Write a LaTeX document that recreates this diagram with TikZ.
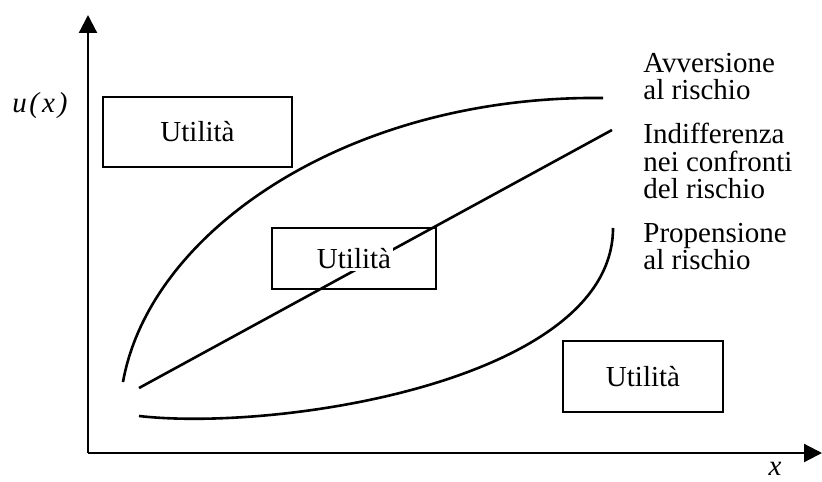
\documentclass[tikz,border=0pt]{standalone}
\usepackage{fontspec}
\setmainfont{Liberation Serif}
\usetikzlibrary{arrows.meta}
\begin{document}
\begin{tikzpicture}[x=0.5pt,y=-0.5pt,
  axis/.style={line width=1.1pt,-{Triangle[length=9pt,width=9pt]}},
  curve/.style={line width=1.3pt},
  utilbox/.style={draw,line width=0.7pt,inner sep=0pt,font=\fontsize{14.5}{14}\selectfont},
  lbl/.style={align=left,anchor=north west,inner sep=0pt,font=\fontsize{14.5}{13.6}\selectfont}]
\useasboundingbox (0,0) rectangle (822,481);
% assi
\coordinate (O) at (88,453);
\coordinate (ytop) at (88,15);
\coordinate (xend) at (822,453);
\draw[axis] (O) -- (ytop);
\draw[axis] (O) -- (xend);
\node[lbl,anchor=center] (ulab) at (40,106) {\textit{u\kern1.2pt(\kern1.5pt x\kern1.5pt)}};
\node[lbl,anchor=north] (xlab) at (775,462) {\textit{x}};
% curve
\draw[curve] (123,382) .. controls (150,230) and (350,95) .. (603,98);
\draw[curve] (139,388) -- (612,130);
\draw[curve] (139,416) .. controls (280,432) and (613,380) .. (613,228);
% riquadri
\node[utilbox,minimum width=94.5pt,minimum height=35pt] (box1) at (197.5,132) {Utilità};
\node[utilbox,minimum width=82pt,minimum height=30.5pt] (box2) at (354,258.5) {};
\node[fill=white,inner sep=1pt,font=\fontsize{14.5}{14}\selectfont] (txt2) at (box2) {Utilità};
\node[utilbox,minimum width=80pt,minimum height=35.5pt] (box3) at (643,376.5) {Utilità};
% etichette
\node[lbl] (avv) at (643,53) {Avversione\\al rischio};
\node[lbl] (ind) at (643,123) {Indifferenza\\nei confronti\\del rischio};
\node[lbl] (prop) at (643,223) {Propensione\\al rischio};
\end{tikzpicture}
\end{document}
